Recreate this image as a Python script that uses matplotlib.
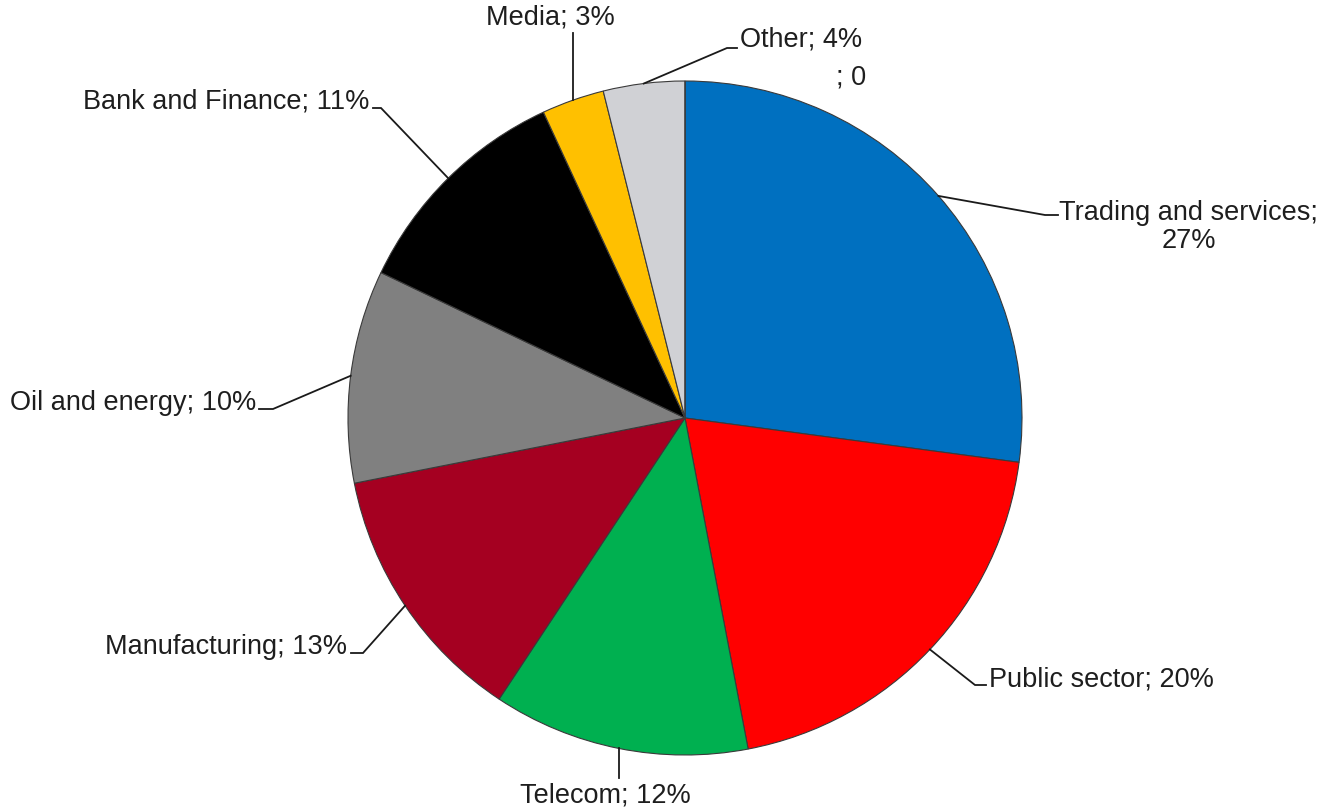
import numpy as np
import matplotlib
matplotlib.use("Agg")
from matplotlib import pyplot as plt

# data (shares in %)
sectors = ["Trading and services", "Public sector", "Telecom", "Manufacturing",
           "Oil and energy", "Bank and Finance", "Media", "Other", ""]
shares = [27.1, 19.9, 12.3, 12.6, 10.2, 11.0, 3.0, 3.9, 0.0]
shown = ["27%", "20%", "12%", "13%", "10%", "11%", "3%", "4%", "0"]
colors = ["#0070C0", "#FF0000", "#00B050", "#A50021", "#808080",
          "#000000", "#FFC000", "#D0D1D5", "#FFFFFF"]

W, H = 1325, 811
CX, CY, R = 685, 418, 337


def px(x, y):
    # pixel position -> data coords (pie centre at 0,0 with radius 1)
    return (x - CX) / R, (CY - y) / R


fig = plt.figure(figsize=(W / 100, H / 100), dpi=100)
ax = fig.add_axes([0, 0, 1, 1])

wedges, _ = ax.pie(shares, colors=colors, startangle=90, counterclock=False,
                   radius=1, center=(0, 0), normalize=True,
                   wedgeprops=dict(edgecolor="#3a3a3a", linewidth=0.8))
ax.set_xlim(-CX / R, (W - CX) / R)
ax.set_ylim((CY - H) / R, CY / R)
ax.set_aspect("equal")
ax.axis("off")

# label layout: (elbow, line end, text anchor, ha) in pixels
layout = [
    ((1045, 215), (1058, 215), (1189, 227), "center"),
    ((975, 685), (986, 685), (989, 679), "left"),
    ((None, 778), None, (605, 796), "center"),
    ((363, 653), (351, 653), (347, 647), "right"),
    ((273, 409), (259, 409), (256, 403), "right"),
    ((381, 108), (373, 108), (369, 101), "right"),
    ((None, 33), None, (550, 18), "center"),
    ((727, 48), (737, 48), (740, 40), "left"),
]

tc = "#1e1e1e"
fs = 19.5
for i, (elbow, end, txt, ha) in enumerate(layout):
    w = wedges[i]
    mid = np.deg2rad((w.theta1 + w.theta2) / 2)
    x0, y0 = np.cos(mid), np.sin(mid)
    if elbow[0] is None:
        # straight vertical leader
        xs = [x0, x0]
        ys = [y0, px(0, elbow[1])[1]]
    else:
        x1, y1 = px(*elbow)
        x2, y2 = px(*end)
        xs = [x0, x1, x2]
        ys = [y0, y1, y2]
    ax.plot(xs, ys, color="#1a1a1a", lw=1.3, solid_joinstyle="miter", zorder=3)
    label = sectors[i] + "; " + shown[i]
    if i == 0:
        label = sectors[i] + ";\n" + shown[i]
    tx, ty = px(*txt)
    ax.text(tx, ty, label, ha=ha, va="center", fontsize=fs, color=tc,
            family="Liberation Sans", multialignment="center", linespacing=1.05)

# the empty zero slice label
tx, ty = px(851, 78)
ax.text(tx, ty, sectors[8] + "; " + shown[8], ha="center", va="center",
        fontsize=fs, color=tc, family="Liberation Sans")

fig.savefig("out.png", dpi=100, facecolor="white")
